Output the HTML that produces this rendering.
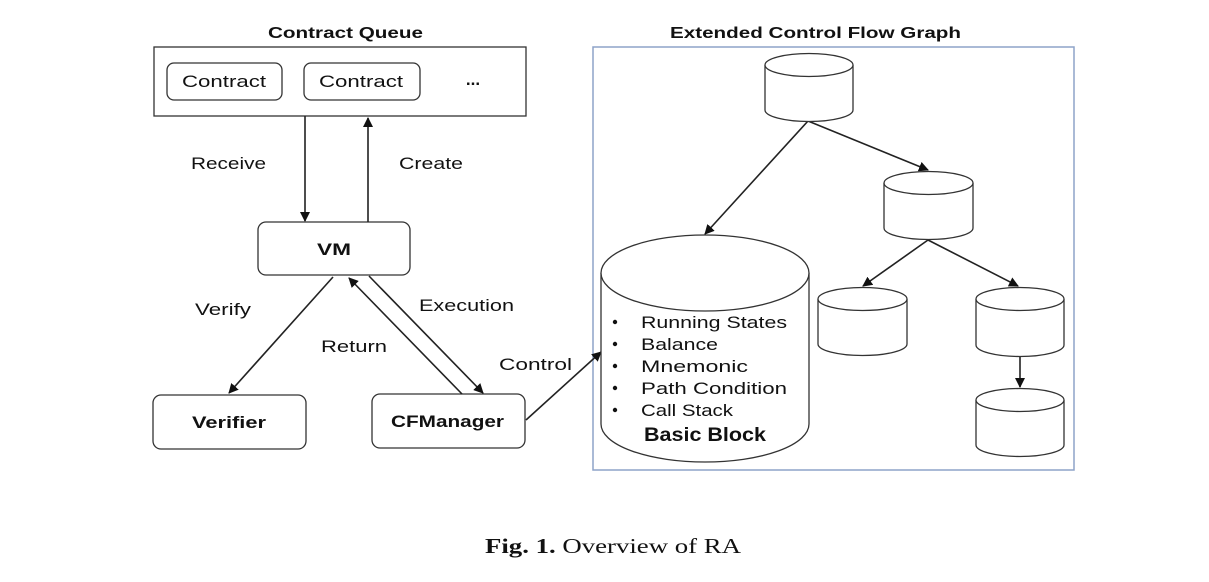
<!DOCTYPE html>
<html><head><style>
body{margin:0;background:#fff;}
svg text{font-family:"Liberation Sans",sans-serif;fill:#111;}
</style></head><body>
<svg width="1209" height="577" viewBox="0 0 1209 577" xmlns="http://www.w3.org/2000/svg">
<defs><marker id="a" markerWidth="10" markerHeight="10" refX="9" refY="5" orient="auto" markerUnits="userSpaceOnUse"><path d="M0,0 L10,5 L0,10 z" fill="#111"/></marker></defs>
<g stroke="#333" stroke-width="1.3" fill="#fff">
<rect x="154" y="47" width="372" height="69"/>
<rect x="167" y="63" width="115" height="37" rx="7"/>
<rect x="304" y="63" width="116" height="37" rx="7"/>
<rect x="258" y="222" width="152" height="53" rx="8"/>
<rect x="153" y="395" width="153" height="54" rx="8"/>
<rect x="372" y="394" width="153" height="54" rx="8"/>
</g>
<rect x="593" y="47" width="481" height="423" fill="none" stroke="#8ea3c8" stroke-width="1.5"/>
<g stroke="#222" stroke-width="1.6" fill="none" marker-end="url(#a)">
<line x1="305" y1="116" x2="305" y2="221"/>
<line x1="368" y1="222" x2="368" y2="118"/>
<line x1="333" y1="277" x2="229" y2="393"/>
<line x1="462" y1="394" x2="349" y2="278"/>
<line x1="369" y1="276" x2="483" y2="393"/>
<line x1="526" y1="420" x2="601" y2="352"/>
<line x1="808" y1="121" x2="705" y2="234"/>
<line x1="808" y1="121" x2="928" y2="170"/>
<line x1="928" y1="240" x2="863" y2="286"/>
<line x1="928" y1="240" x2="1018" y2="286"/>
<line x1="1020" y1="357" x2="1020" y2="387"/>
</g>
<g stroke="#333" stroke-width="1.3" fill="#fff">
<path d="M765,65 V110 A44,11.5 0 0 0 853,110 V65"/><ellipse cx="809" cy="65" rx="44" ry="11.5"/>
<path d="M884,183 V228 A44.5,11.5 0 0 0 973,228 V183"/><ellipse cx="928.5" cy="183" rx="44.5" ry="11.5"/>
<path d="M818,299 V344 A44.5,11.5 0 0 0 907,344 V299"/><ellipse cx="862.5" cy="299" rx="44.5" ry="11.5"/>
<path d="M976,299 V345 A44,11.5 0 0 0 1064,345 V299"/><ellipse cx="1020" cy="299" rx="44" ry="11.5"/>
<path d="M976,400 V445 A44,11.5 0 0 0 1064,445 V400"/><ellipse cx="1020" cy="400" rx="44" ry="11.5"/>
<path d="M601,273 V424 A104,38 0 0 0 809,424 V273"/><ellipse cx="705" cy="273" rx="104" ry="38"/>
</g>
<g font-size="17" lengthAdjust="spacingAndGlyphs">
<text x="268" y="38" font-weight="bold" font-size="16" textLength="155" lengthAdjust="spacingAndGlyphs">Contract Queue</text>
<text x="670" y="38" font-weight="bold" font-size="16" textLength="291" lengthAdjust="spacingAndGlyphs">Extended Control Flow Graph</text>
<text x="182" y="87" textLength="84" lengthAdjust="spacingAndGlyphs">Contract</text>
<text x="319" y="87" textLength="84" lengthAdjust="spacingAndGlyphs">Contract</text>
<text x="473" y="85" text-anchor="middle" font-weight="bold">...</text>
<text x="317" y="255" font-weight="bold" textLength="34" lengthAdjust="spacingAndGlyphs">VM</text>
<text x="192" y="428" font-weight="bold" textLength="74" lengthAdjust="spacingAndGlyphs">Verifier</text>
<text x="391" y="427" font-weight="bold" textLength="113" lengthAdjust="spacingAndGlyphs">CFManager</text>
<text x="191" y="169" textLength="75" lengthAdjust="spacingAndGlyphs">Receive</text>
<text x="399" y="169" textLength="64" lengthAdjust="spacingAndGlyphs">Create</text>
<text x="195" y="315" textLength="56" lengthAdjust="spacingAndGlyphs">Verify</text>
<text x="419" y="311" textLength="95" lengthAdjust="spacingAndGlyphs">Execution</text>
<text x="321" y="352" textLength="66" lengthAdjust="spacingAndGlyphs">Return</text>
<text x="499" y="370" textLength="73" lengthAdjust="spacingAndGlyphs">Control</text>
<text x="641" y="328" textLength="146" lengthAdjust="spacingAndGlyphs">Running States</text>
<text x="641" y="350" textLength="77" lengthAdjust="spacingAndGlyphs">Balance</text>
<text x="641" y="372" textLength="107" lengthAdjust="spacingAndGlyphs">Mnemonic</text>
<text x="641" y="394" textLength="146" lengthAdjust="spacingAndGlyphs">Path Condition</text>
<text x="641" y="416" textLength="92" lengthAdjust="spacingAndGlyphs">Call Stack</text>
<text x="644" y="441" font-weight="bold" font-size="19" textLength="122" lengthAdjust="spacingAndGlyphs">Basic Block</text>
</g>
<g fill="#111"><circle cx="615" cy="322" r="2.2"/><circle cx="615" cy="344" r="2.2"/><circle cx="615" cy="366" r="2.2"/><circle cx="615" cy="388" r="2.2"/><circle cx="615" cy="410" r="2.2"/></g>
<text x="485" y="553" font-size="21" textLength="256" lengthAdjust="spacingAndGlyphs" style="font-family:'Liberation Serif',serif"><tspan font-weight="bold">Fig. 1.</tspan> Overview of RA</text>
</svg>
</body></html>
